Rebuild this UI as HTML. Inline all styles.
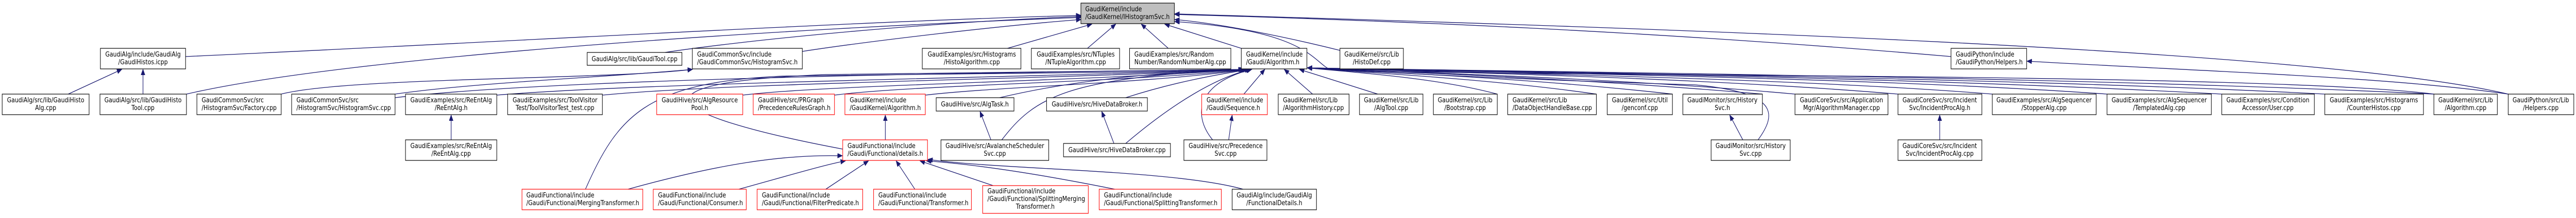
<!DOCTYPE html>
<html><head><meta charset="utf-8"><style>
html,body{margin:0;padding:0;background:#fff;width:100%;height:100%;overflow:hidden;}
svg{display:block;width:100vw;height:100vh;}
text{font-family:"DejaVu Sans","Liberation Sans",sans-serif;font-size:13px;fill:#000;}
.e{fill:none;stroke:#191970;stroke-width:1.3;}
.n{fill:#fff;stroke:#000;stroke-width:1.2;}
.r{fill:#fff;stroke:#ff0000;stroke-width:1.2;}
</style></head><body>
<svg viewBox="0 0 5927 424" preserveAspectRatio="none" xmlns="http://www.w3.org/2000/svg">
<defs><marker id="a" markerUnits="userSpaceOnUse" markerWidth="12" markerHeight="10" refX="11" refY="4.5" orient="auto"><path d="M0,0 L11,4.5 L0,9 z" fill="#191970" stroke="#191970"/></marker></defs>
<g class="edges">
<path class="e" marker-end="url(#a)" d="M427,110 C1200,80 2000,40 2487,30"/>
<path class="e" marker-end="url(#a)" d="M429,183 C800,110 1800,55 2487,34"/>
<path class="e" marker-end="url(#a)" d="M1530,102 C1700,80 2100,45 2487,32"/>
<path class="e" marker-end="url(#a)" d="M1846,100 C2000,80 2300,50 2487,38"/>
<path class="e" marker-end="url(#a)" d="M2318,94 L2512,47"/>
<path class="e" marker-end="url(#a)" d="M2502,94 L2567,47"/>
<path class="e" marker-end="url(#a)" d="M2688,94 L2626,47"/>
<path class="e" marker-end="url(#a)" d="M2856,94 L2680,47"/>
<path class="e" marker-end="url(#a)" d="M3083,98 C2950,70 2800,45 2703,38"/>
<path class="e" marker-end="url(#a)" d="M4489,110 C3800,60 3200,40 2703,28"/>
<path class="e" marker-end="url(#a)" d="M5771,183 C5300,90 3600,50 2703,27"/>
<path class="e" marker-end="url(#a)" d="M5600,183 C5200,140 3400,150 3060,135 C3020,120 3010,60 2703,42"/>
<path class="e" marker-end="url(#a)" d="M5771,183 C5500,150 5100,140 4664,119"/>
<path class="e" marker-end="url(#a)" d="M647,183 C800,150 1400,155 1593,135"/>
<path class="e" marker-end="url(#a)" d="M909,183 C1100,160 1400,150 1593,135"/>
<path class="e" marker-end="url(#a)" d="M157,183 L280,135"/>
<path class="e" marker-end="url(#a)" d="M329,183 L329,135"/>
<path class="e" marker-end="url(#a)" d="M1038,272 L1038,224"/>
<path class="e" marker-end="url(#a)" d="M2037,272 L2037,224"/>
<path class="e" marker-end="url(#a)" d="M2280,272 L2255,217"/>
<path class="e" marker-end="url(#a)" d="M2563,279 L2535,217"/>
<path class="e" marker-end="url(#a)" d="M2827,272 L2835,224"/>
<path class="e" marker-end="url(#a)" d="M4010,272 L3980,224"/>
<path class="e" marker-end="url(#a)" d="M4463,272 L4463,224"/>
<path class="e" marker-end="url(#a)" d="M1445,368 C1650,320 1800,300 1938,303"/>
<path class="e" marker-end="url(#a)" d="M1700,368 C1820,340 1900,320 1945,313"/>
<path class="e" marker-end="url(#a)" d="M1900,368 L1998,313"/>
<path class="e" marker-end="url(#a)" d="M2105,368 L2062,313"/>
<path class="e" marker-end="url(#a)" d="M2285,361 L2117,313"/>
<path class="e" marker-end="url(#a)" d="M2565,368 C2400,340 2250,320 2132,313"/>
<path class="e" marker-end="url(#a)" d="M2860,368 C2700,330 2300,330 2135,310"/>
<path class="e" marker-end="url(#a)" d="M909,190 C1300,150 2400,140 2860,135"/>
<path class="e" marker-end="url(#a)" d="M1143,185 C1500,160 2400,150 2862,135"/>
<path class="e" marker-end="url(#a)" d="M1386,185 C1700,160 2400,155 2864,135"/>
<path class="e" marker-end="url(#a)" d="M1709,185 C1900,165 2500,158 2866,135"/>
<path class="e" marker-end="url(#a)" d="M1920,185 C2100,165 2600,160 2868,135"/>
<path class="e" marker-end="url(#a)" d="M2129,185 C2300,168 2650,162 2870,135"/>
<path class="e" marker-end="url(#a)" d="M1939,290 C1500,220 1450,160 1900,145 C2300,140 2600,140 2862,135"/>
<path class="e" marker-end="url(#a)" d="M1347,368 C1420,230 1480,160 1800,148 C2300,142 2600,142 2864,135"/>
<path class="e" marker-end="url(#a)" d="M2300,190 C2500,150 2700,140 2870,135"/>
<path class="e" marker-end="url(#a)" d="M2305,272 C2380,190 2450,150 2872,135"/>
<path class="e" marker-end="url(#a)" d="M2590,190 C2700,160 2800,145 2875,135"/>
<path class="e" marker-end="url(#a)" d="M2590,279 C2700,200 2800,150 2878,135"/>
<path class="e" marker-end="url(#a)" d="M2790,272 C2740,220 2760,160 2880,135"/>
<path class="e" marker-end="url(#a)" d="M2862,183 L2910,135"/>
<path class="e" marker-end="url(#a)" d="M3020,183 L2955,135"/>
<path class="e" marker-end="url(#a)" d="M3170,183 L2990,135"/>
<path class="e" marker-end="url(#a)" d="M3445,183 C3300,150 3100,140 3008,132"/>
<path class="e" marker-end="url(#a)" d="M3673,183 C3400,150 3100,140 3008,132"/>
<path class="e" marker-end="url(#a)" d="M3848,183 C3500,150 3150,140 3008,132"/>
<path class="e" marker-end="url(#a)" d="M4055,183 C3600,150 3200,140 3008,132"/>
<path class="e" marker-end="url(#a)" d="M4045,272 C4090,220 4090,180 3900,165 C3500,155 3150,140 3008,132"/>
<path class="e" marker-end="url(#a)" d="M4130,183 C3700,150 3200,140 3008,132"/>
<path class="e" marker-end="url(#a)" d="M4367,183 C3900,150 3300,140 3008,132"/>
<path class="e" marker-end="url(#a)" d="M4584,183 C4100,150 3300,140 3008,132"/>
<path class="e" marker-end="url(#a)" d="M4848,183 C4300,150 3400,140 3008,132"/>
<path class="e" marker-end="url(#a)" d="M5112,183 C4400,150 3500,140 3008,132"/>
<path class="e" marker-end="url(#a)" d="M5349,183 C4600,150 3500,140 3008,132"/>
<path class="e" marker-end="url(#a)" d="M5600,183 C4800,150 3600,140 3008,132"/>
</g>
<g class="nodes">
<rect x="2487" y="6" width="215" height="40" fill="#bfbfbf" stroke="#000" stroke-width="1.2"/>
<text x="2497" y="22">GaudiKernel/include</text><text x="2497" y="37">/GaudiKernel/IHistogramSvc.h</text>
<rect class="n" x="231" y="94" width="196" height="40"/><text x="329" y="110" text-anchor="middle">GaudiAlg/include/GaudiAlg</text><text x="329" y="125" text-anchor="middle">/GaudiHistos.icpp</text>
<rect class="n" x="5" y="183" width="200" height="40"/><text x="105" y="199" text-anchor="middle">GaudiAlg/src/lib/GaudiHisto</text><text x="105" y="214" text-anchor="middle">Alg.cpp</text>
<rect class="n" x="230" y="183" width="199" height="40"/><text x="329" y="199" text-anchor="middle">GaudiAlg/src/lib/GaudiHisto</text><text x="329" y="214" text-anchor="middle">Tool.cpp</text>
<rect class="n" x="453" y="183" width="194" height="40"/><text x="464" y="199">GaudiCommonSvc/src</text><text x="464" y="214">/HistogramSvc/Factory.cpp</text>
<rect class="n" x="671" y="183" width="238" height="40"/><text x="682" y="199">GaudiCommonSvc/src</text><text x="682" y="214">/HistogramSvc/HistogramSvc.cpp</text>
<rect class="n" x="933" y="183" width="210" height="40"/><text x="1038" y="199" text-anchor="middle">GaudiExamples/src/ReEntAlg</text><text x="1038" y="214" text-anchor="middle">/ReEntAlg.h</text>
<rect class="n" x="933" y="272" width="210" height="40"/><text x="1038" y="288" text-anchor="middle">GaudiExamples/src/ReEntAlg</text><text x="1038" y="303" text-anchor="middle">/ReEntAlg.cpp</text>
<rect class="n" x="1168" y="183" width="218" height="40"/><text x="1277" y="199" text-anchor="middle">GaudiExamples/src/ToolVisitor</text><text x="1277" y="214" text-anchor="middle">Test/ToolVisitorTest_test.cpp</text>
<rect class="n" x="1351" y="102" width="218" height="25"/><text x="1460" y="119" text-anchor="middle">GaudiAlg/src/lib/GaudiTool.cpp</text>
<rect class="n" x="1593" y="94" width="253" height="40"/><text x="1604" y="110">GaudiCommonSvc/include</text><text x="1604" y="125">/GaudiCommonSvc/HistogramSvc.h</text>
<rect class="r" x="1511" y="183" width="198" height="40"/><text x="1610" y="199" text-anchor="middle">GaudiHive/src/AlgResource</text><text x="1610" y="214" text-anchor="middle">Pool.h</text>
<rect class="r" x="1733" y="183" width="187" height="40"/><text x="1744" y="199">GaudiHive/src/PRGraph</text><text x="1744" y="214">/PrecedenceRulesGraph.h</text>
<rect class="r" x="1944" y="183" width="185" height="40"/><text x="1955" y="199">GaudiKernel/include</text><text x="1955" y="214">/GaudiKernel/Algorithm.h</text>
<rect class="r" x="1939" y="272" width="195" height="40"/><text x="1950" y="288">GaudiFunctional/include</text><text x="1950" y="303">/Gaudi/Functional/details.h</text>
<rect class="r" x="1201" y="368" width="278" height="40"/><text x="1211" y="384">GaudiFunctional/include</text><text x="1211" y="399">/Gaudi/Functional/MergingTransformer.h</text>
<rect class="r" x="1503" y="368" width="214" height="40"/><text x="1514" y="384">GaudiFunctional/include</text><text x="1514" y="399">/Gaudi/Functional/Consumer.h</text>
<rect class="r" x="1742" y="368" width="243" height="40"/><text x="1753" y="384">GaudiFunctional/include</text><text x="1753" y="399">/Gaudi/Functional/FilterPredicate.h</text>
<rect class="n" x="2122" y="94" width="227" height="40"/><text x="2236" y="110" text-anchor="middle">GaudiExamples/src/Histograms</text><text x="2236" y="125" text-anchor="middle">/HistoAlgorithm.cpp</text>
<rect class="n" x="2373" y="94" width="203" height="40"/><text x="2475" y="110" text-anchor="middle">GaudiExamples/src/NTuples</text><text x="2475" y="125" text-anchor="middle">/NTupleAlgorithm.cpp</text>
<rect class="n" x="2599" y="94" width="233" height="40"/><text x="2610" y="110">GaudiExamples/src/Random</text><text x="2610" y="125">Number/RandomNumberAlg.cpp</text>
<rect class="n" x="2856" y="94" width="151" height="40"/><text x="2867" y="110">GaudiKernel/include</text><text x="2867" y="125">/Gaudi/Algorithm.h</text>
<rect class="n" x="2154" y="190" width="179" height="26"/><text x="2243" y="207" text-anchor="middle">GaudiHive/src/AlgTask.h</text>
<rect class="n" x="2408" y="190" width="232" height="26"/><text x="2524" y="207" text-anchor="middle">GaudiHive/src/HiveDataBroker.h</text>
<rect class="r" x="2765" y="183" width="151" height="40"/><text x="2776" y="199">GaudiKernel/include</text><text x="2776" y="214">/Gaudi/Sequence.h</text>
<rect class="n" x="2941" y="183" width="163" height="40"/><text x="2952" y="199">GaudiKernel/src/Lib</text><text x="2952" y="214">/AlgorithmHistory.cpp</text>
<rect class="n" x="3128" y="183" width="146" height="40"/><text x="3201" y="199" text-anchor="middle">GaudiKernel/src/Lib</text><text x="3201" y="214" text-anchor="middle">/AlgTool.cpp</text>
<rect class="n" x="2165" y="272" width="248" height="40"/><text x="2289" y="288" text-anchor="middle">GaudiHive/src/AvalancheScheduler</text><text x="2289" y="303" text-anchor="middle">Svc.cpp</text>
<rect class="n" x="2447" y="279" width="246" height="26"/><text x="2570" y="296" text-anchor="middle">GaudiHive/src/HiveDataBroker.cpp</text>
<rect class="n" x="2724" y="272" width="191" height="40"/><text x="2820" y="288" text-anchor="middle">GaudiHive/src/Precedence</text><text x="2820" y="303" text-anchor="middle">Svc.cpp</text>
<rect class="r" x="2010" y="368" width="225" height="40"/><text x="2021" y="384">GaudiFunctional/include</text><text x="2021" y="399">/Gaudi/Functional/Transformer.h</text>
<rect class="r" x="2261" y="361" width="243" height="54"/><text x="2272" y="376">GaudiFunctional/include</text><text x="2272" y="391">/Gaudi/Functional/SplittingMerging</text><text x="2382" y="406" text-anchor="middle">Transformer.h</text>
<rect class="r" x="2529" y="368" width="281" height="40"/><text x="2540" y="384">GaudiFunctional/include</text><text x="2540" y="399">/Gaudi/Functional/SplittingTransformer.h</text>
<rect class="n" x="2835" y="368" width="194" height="40"/><text x="2932" y="384" text-anchor="middle">GaudiAlg/include/GaudiAlg</text><text x="2932" y="399" text-anchor="middle">/FunctionalDetails.h</text>
<rect class="n" x="3083" y="94" width="146" height="40"/><text x="3156" y="110" text-anchor="middle">GaudiKernel/src/Lib</text><text x="3156" y="125" text-anchor="middle">/HistoDef.cpp</text>
<rect class="n" x="3298" y="183" width="147" height="40"/><text x="3371" y="199" text-anchor="middle">GaudiKernel/src/Lib</text><text x="3371" y="214" text-anchor="middle">/Bootstrap.cpp</text>
<rect class="n" x="3469" y="183" width="204" height="40"/><text x="3480" y="199">GaudiKernel/src/Lib</text><text x="3480" y="214">/DataObjectHandleBase.cpp</text>
<rect class="n" x="3698" y="183" width="150" height="40"/><text x="3773" y="199" text-anchor="middle">GaudiKernel/src/Util</text><text x="3773" y="214" text-anchor="middle">/genconf.cpp</text>
<rect class="n" x="3872" y="183" width="183" height="40"/><text x="3963" y="199" text-anchor="middle">GaudiMonitor/src/History</text><text x="3963" y="214" text-anchor="middle">Svc.h</text>
<rect class="n" x="3937" y="272" width="182" height="40"/><text x="4028" y="288" text-anchor="middle">GaudiMonitor/src/History</text><text x="4028" y="303" text-anchor="middle">Svc.cpp</text>
<rect class="n" x="4130" y="183" width="214" height="40"/><text x="4237" y="199" text-anchor="middle">GaudiCoreSvc/src/Application</text><text x="4237" y="214" text-anchor="middle">Mgr/AlgorithmManager.cpp</text>
<rect class="n" x="4367" y="183" width="193" height="40"/><text x="4463" y="199" text-anchor="middle">GaudiCoreSvc/src/Incident</text><text x="4463" y="214" text-anchor="middle">Svc/IncidentProcAlg.h</text>
<rect class="n" x="4367" y="272" width="193" height="40"/><text x="4463" y="288" text-anchor="middle">GaudiCoreSvc/src/Incident</text><text x="4463" y="303" text-anchor="middle">Svc/IncidentProcAlg.cpp</text>
<rect class="n" x="4584" y="183" width="239" height="40"/><text x="4703" y="199" text-anchor="middle">GaudiExamples/src/AlgSequencer</text><text x="4703" y="214" text-anchor="middle">/StopperAlg.cpp</text>
<rect class="n" x="4848" y="183" width="240" height="40"/><text x="4968" y="199" text-anchor="middle">GaudiExamples/src/AlgSequencer</text><text x="4968" y="214" text-anchor="middle">/TemplatedAlg.cpp</text>
<rect class="n" x="4489" y="94" width="174" height="40"/><text x="4500" y="110">GaudiPython/include</text><text x="4500" y="125">/GaudiPython/Helpers.h</text>
<rect class="n" x="5112" y="183" width="213" height="40"/><text x="5218" y="199" text-anchor="middle">GaudiExamples/src/Condition</text><text x="5218" y="214" text-anchor="middle">Accessor/User.cpp</text>
<rect class="n" x="5349" y="183" width="227" height="40"/><text x="5462" y="199" text-anchor="middle">GaudiExamples/src/Histograms</text><text x="5462" y="214" text-anchor="middle">/CounterHistos.cpp</text>
<rect class="n" x="5600" y="183" width="146" height="40"/><text x="5673" y="199" text-anchor="middle">GaudiKernel/src/Lib</text><text x="5673" y="214" text-anchor="middle">/Algorithm.cpp</text>
<rect class="n" x="5771" y="183" width="151" height="40"/><text x="5846" y="199" text-anchor="middle">GaudiPython/src/Lib</text><text x="5846" y="214" text-anchor="middle">/Helpers.cpp</text>
</g>
</svg>
</body></html>
